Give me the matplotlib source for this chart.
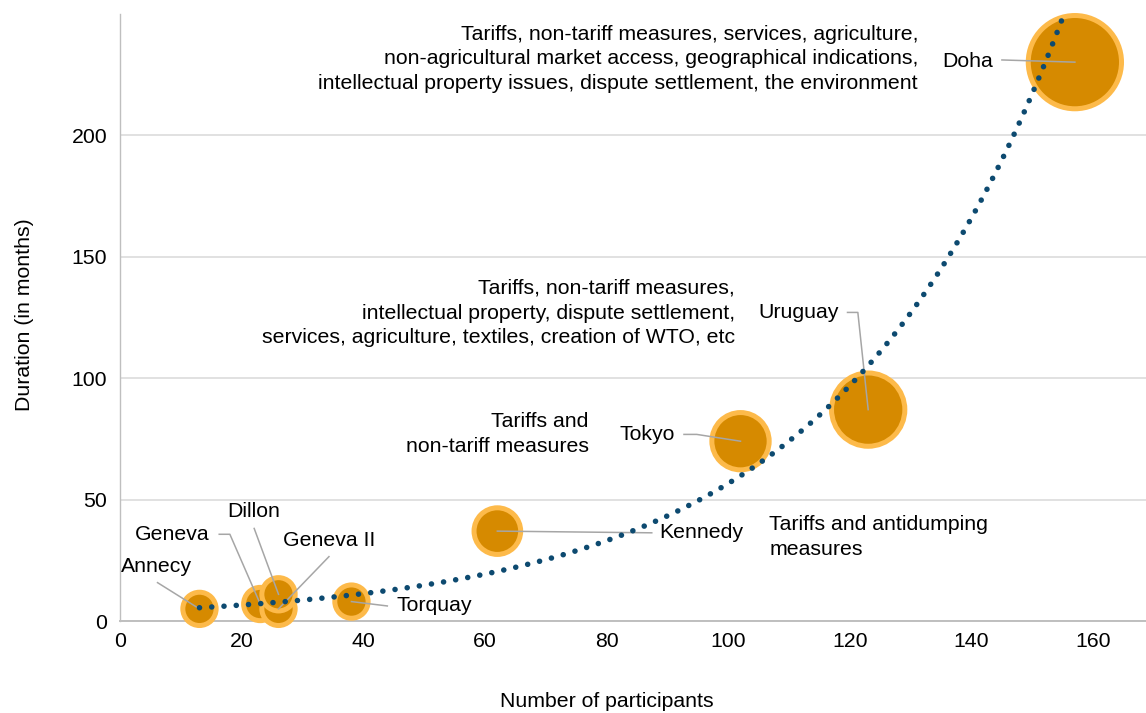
import numpy as np
import matplotlib
matplotlib.use('Agg')
import matplotlib.pyplot as plt

plt.rcParams['font.family'] = ['Liberation Sans', 'DejaVu Sans']
plt.rcParams['font.size'] = 15.3

# GATT / WTO negotiating rounds
rounds = ['Geneva', 'Annecy', 'Torquay', 'Geneva II', 'Dillon',
          'Kennedy', 'Tokyo', 'Uruguay', 'Doha']
participants = [23, 13, 38, 26, 26, 62, 102, 123, 157]
duration = [7, 5, 8, 5, 11, 37, 74, 87, 230]
bubble_size = [13, 13, 13, 13, 13, 25.5, 38.5, 63, 102]

x_ticks = [0, 20, 40, 60, 80, 100, 120, 140, 160]
y_ticks = [0, 50, 100, 150, 200]

subjects_doha = ('Tariffs, non-tariff measures, services, agriculture,\n'
                 'non-agricultural market access, geographical indications,\n'
                 'intellectual property issues, dispute settlement, the environment')
subjects_uruguay = ('Tariffs, non-tariff measures,\n'
                    'intellectual property, dispute settlement,\n'
                    'services, agriculture, textiles, creation of WTO, etc')
subjects_tokyo = 'Tariffs and\nnon-tariff measures'
subjects_kennedy = 'Tariffs and antidumping\nmeasures'

# label layout: text position, alignment, leader waypoints (end = data point)
label_layout = {
    'Geneva': ((14.7, 35.7), 'right', [(16.25, 35.7), (18.0, 35.7)]),
    'Annecy': ((6.0, 22.3), 'center', [(6.1, 15.8)]),
    'Torquay': ((45.4, 6.2), 'left', [(43.9, 6.2)]),
    'Geneva II': ((26.8, 33.0), 'left', [(34.3, 26.5)]),
    'Dillon': ((21.9, 45.0), 'center', [(22.0, 38.1)]),
    'Kennedy': ((88.7, 36.3), 'left', [(87.4, 36.3)]),
    'Tokyo': ((91.2, 76.8), 'right', [(92.7, 76.8), (94.8, 76.8)]),
    'Uruguay': ((118.2, 127.0), 'right', [(119.6, 127.0), (121.3, 127.0)]),
    'Doha': ((143.5, 230.2), 'right', [(145.0, 230.9)]),
}

fig = plt.figure(figsize=(11.46, 7.13), dpi=100)
ax = fig.add_axes([0.1051, 0.129, 0.8949, 0.852])

ax.set_xlim(0, 168.7)
ax.set_ylim(0, 250)
ax.set_xticks(x_ticks)
ax.set_yticks(y_ticks)
ax.grid(axis='y', color='#D9D9D9', linewidth=1.1)
ax.set_axisbelow(True)
for side in ['top', 'right']:
    ax.spines[side].set_visible(False)
ax.spines['left'].set_color('#BFBFBF')
ax.spines['left'].set_linewidth(1.0)
ax.spines['bottom'].set_color('#BFBFBF')
ax.spines['bottom'].set_linewidth(1.4)
ax.tick_params(axis='both', length=0, labelsize=15.3, colors='#000000')
ax.tick_params(axis='y', pad=9.5)
ax.tick_params(axis='x', pad=8)

# bubbles
sizes = np.array(bubble_size) * 44.2
ax.scatter(participants, duration, s=sizes, color='#D68A00',
           edgecolors='#FDBA4A', linewidths=3.6, zorder=3, clip_on=False)

# exponential trendline fitted on the data
b, log_a = np.polyfit(participants, np.log(duration), 1)
xs = np.linspace(min(participants), max(participants), 400)
ax.plot(xs, np.exp(log_a) * np.exp(b * xs), color='#0D4A70', linewidth=4.0,
        linestyle=(0, (0.01, 2.2)), dash_capstyle='round', zorder=5)

# round labels with leader lines
for name, px, py in zip(rounds, participants, duration):
    (tx, ty), ha, pts = label_layout[name]
    lx = [p[0] for p in pts] + [px]
    ly = [p[1] for p in pts] + [py]
    ax.plot(lx, ly, color='#A6A6A6', linewidth=1.1, zorder=4)
    ax.text(tx, ty, name, ha=ha, va='center', zorder=6)

# subject descriptions
ax.text(131.2, 231.3, subjects_doha, ha='right', va='center',
        multialignment='right', linespacing=1.38)
ax.text(101.1, 126.7, subjects_uruguay, ha='right', va='center',
        multialignment='right', linespacing=1.38)
ax.text(77.0, 77.0, subjects_tokyo, ha='right', va='center',
        multialignment='right', linespacing=1.38)
ax.text(106.7, 34.6, subjects_kennedy, ha='left', va='center',
        multialignment='left', linespacing=1.38)

ax.set_xlabel('Number of participants')
ax.set_ylabel('Duration (in months)')
ax.xaxis.set_label_coords(0.4744, -0.117)
ax.yaxis.set_label_coords(-0.084, 0.505)

fig.savefig('out.png', dpi=100)
